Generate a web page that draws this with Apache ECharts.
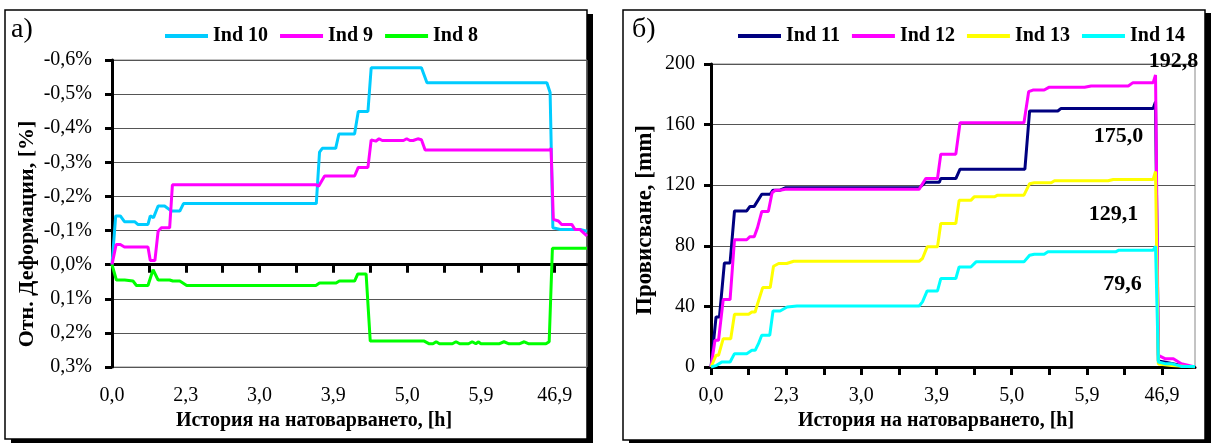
<!DOCTYPE html>
<html>
<head>
<meta charset="utf-8" />
<script src="https://cdn.jsdelivr.net/npm/echarts@6/dist/echarts.min.js"></script>
<style>
  html, body { margin: 0; padding: 0; background: #fff; }
  #chart { width: 1211px; height: 443px; }
</style>
</head>
<body>
<div id="chart"></div>
<script>
// x = loading step index, 8 steps per tick mark, label every 2nd tick
var xLabels = ['0,0', '2,3', '3,0', '3,9', '5,0', '5,9', '46,9'];
var xMax = 103;

// a) relative strain, [%] (negative = upward on the chart)
var ind10 = [[0,0],[0.8,-0.143],[1.8,-0.143],[2.7,-0.126],[4.9,-0.126],[5.6,-0.118],[7.8,-0.118],[8.3,-0.143],[8.7,-0.143],[9.0,-0.138],[10.0,-0.172],[11.4,-0.172],[12.9,-0.157],[14.7,-0.157],[15.5,-0.179],[44.3,-0.179],[45.0,-0.33],[45.6,-0.341],[48.5,-0.341],[49.2,-0.383],[52.6,-0.383],[53.4,-0.449],[55.5,-0.449],[56.2,-0.577],[67.1,-0.577],[68.3,-0.533],[94.3,-0.533],[95.0,-0.505],[95.6,-0.108],[97.2,-0.103],[101.5,-0.103],[103,-0.098]];
var ind9 = [[0,0],[0.9,-0.059],[1.8,-0.059],[2.7,-0.052],[7.8,-0.052],[8.3,-0.012],[9.3,-0.012],[10.0,-0.098],[10.7,-0.108],[12.5,-0.108],[13.1,-0.234],[44.3,-0.234],[44.8,-0.23],[46.1,-0.26],[52.6,-0.26],[53.4,-0.285],[55.5,-0.285],[56.2,-0.366],[57.2,-0.362],[57.9,-0.369],[58.6,-0.364],[63.2,-0.364],[63.9,-0.369],[64.6,-0.364],[65.3,-0.364],[66.3,-0.369],[67.1,-0.366],[67.9,-0.336],[95.0,-0.336],[95.2,-0.342],[95.7,-0.133],[96.8,-0.128],[97.5,-0.118],[99.7,-0.118],[100.4,-0.103],[101.5,-0.103],[103,-0.084]];
var ind8 = [[0,0],[0.95,0.045],[2.75,0.045],[3.1,0.048],[4.55,0.048],[5.3,0.061],[7.8,0.061],[8.9,0.015],[10.0,0.045],[12.5,0.045],[13.2,0.048],[14.7,0.048],[16.2,0.061],[44.2,0.061],[45.0,0.054],[48.6,0.054],[49.3,0.048],[52.6,0.048],[53.3,0.027],[55.1,0.027],[56.0,0.224],[67.7,0.224],[68.8,0.232],[69.6,0.232],[70.3,0.226],[71.0,0.232],[73.8,0.232],[74.6,0.226],[75.4,0.232],[77.3,0.232],[78.1,0.226],[78.9,0.232],[79.4,0.226],[80.0,0.232],[83.9,0.232],[85.0,0.226],[86.1,0.232],[88.3,0.232],[89.4,0.226],[90.4,0.232],[94.1,0.232],[94.8,0.226],[95.5,-0.048],[103,-0.048]];

// б) deflection, [mm]
var ind11 = [[0,0],[1.07,33],[1.8,33],[2.85,68.7],[4.06,68.7],[5.0,103],[7.6,103],[8.3,106],[9.2,106],[10.8,114],[12.6,114],[13.2,116.7],[14.7,116.7],[15.8,118.3],[44.3,118.3],[45.7,122],[48.6,122],[48.9,124.4],[52.1,124.4],[53.0,130.6],[66.8,130.6],[67.8,169],[73.8,169],[74.5,170.7],[94.1,170.7],[94.6,175.0],[95.2,4],[97,3],[100,1],[103,0]];
var ind12 = [[0,0],[0.85,17.6],[1.6,17.6],[2.6,44.5],[4.06,44.5],[5.0,84],[7.6,84],[8.3,86],[9.2,86],[9.9,92],[10.8,102.6],[12.2,102.6],[13.0,115],[13.7,116.7],[14.7,116.7],[15.8,117.3],[44.3,117.3],[45.7,124.4],[48.2,124.4],[48.9,140.5],[52.1,140.5],[53.0,161.2],[66.6,161.2],[67.6,181.7],[68.5,182.8],[70.9,182.8],[71.9,184.6],[79.5,184.6],[80.9,185.5],[88.8,185.5],[89.8,187.7],[94.1,187.7],[94.6,192.8],[95.2,7.7],[96.6,5.5],[98.4,5.5],[100.1,2.2],[103,0]];
var ind13 = [[0,0],[1.07,7.7],[1.6,7.7],[2.6,18.7],[4.2,18.7],[5.0,34.8],[8.0,34.8],[8.7,36.3],[9.4,36.3],[9.7,39.6],[11.0,52.4],[12.6,52.4],[13.3,66.5],[14.4,68.3],[16.1,68.3],[17.6,69.8],[44.3,69.8],[45.0,71.6],[46.0,79.3],[48.2,79.3],[48.9,94.7],[52.1,94.7],[52.8,110],[55.3,110],[56.0,112.3],[60.3,112.3],[61.0,113.4],[66.6,113.4],[67.8,121],[68.8,121.6],[72.4,121.6],[73.1,122.9],[84.5,122.9],[85.6,123.8],[94.1,123.8],[94.6,129.1],[95.2,2],[98,1],[103,0]];
var ind14 = [[0,0],[1.2,1.1],[2.3,3.3],[4.06,3.3],[5.0,8.8],[7.6,8.8],[8.7,11],[9.4,11],[10.1,15.4],[10.8,21],[12.5,21],[13.2,37],[14.7,37],[16.2,39.6],[18.3,40.3],[44.3,40.3],[45.0,43],[46.0,50.2],[48.2,50.2],[48.9,58.4],[52.1,58.4],[52.8,66],[55.3,66],[56.4,69.4],[66.6,69.4],[67.8,73.8],[68.8,74.4],[70.9,74.4],[71.7,76],[86.1,76],[86.8,77.1],[94.1,77.1],[94.6,79.6],[95.2,3.3],[96.6,2.2],[98,2.2],[100.1,0.4],[103,0.4]];

var font = 'Liberation Serif';

var tickVals = [];
for (var v = 0; v <= xMax; v += 8) tickVals.push(v);
var labelVals = xLabels.map(function (s, i) { return i * 16; });
var xFmt = function (v) { return xLabels[v / 16] || ''; };
var comma = function (n) { return n.toFixed(1).replace('.', ','); };

var labelStyle = { fontFamily: font, fontSize: 20, color: '#000' };

function lineSeries(name, data, color, xi, yi) {
  return {
    name: name, type: 'line', data: data, xAxisIndex: xi, yAxisIndex: yi,
    symbol: 'none', lineStyle: { width: 3, color: color }, itemStyle: { color: color }
  };
}

// deflection curve with its peak value written next to it
function peakSeries(name, data, color, offset) {
  var s = lineSeries(name, data, color, 2, 1);
  var k = 0;
  data.forEach(function (p, i) { if (p[1] > data[k][1]) k = i; });
  s.markPoint = {
    symbol: 'circle', symbolSize: 1, silent: true,
    itemStyle: { color: 'rgba(0,0,0,0)' },
    label: {
      show: true, position: 'inside', offset: offset,
      fontFamily: font, fontSize: 22, fontWeight: 'bold', color: '#000',
      formatter: function () { return comma(data[k][1]); }
    },
    data: [{ coord: data[k] }]
  };
  return s;
}

var chart = echarts.init(document.getElementById('chart'));

var option = {
  animation: false,
  backgroundColor: '#fff',
  graphic: [
    { type: 'rect', z: -2, shape: { x: 11, y: 14, width: 582, height: 429 }, style: { fill: '#000' } },
    { type: 'rect', z: -1, shape: { x: 5, y: 10, width: 582, height: 429 }, style: { fill: '#fff', stroke: '#000', lineWidth: 1.5 } },
    { type: 'rect', z: -2, shape: { x: 629, y: 13, width: 582, height: 430 }, style: { fill: '#000' } },
    { type: 'rect', z: -1, shape: { x: 623, y: 10, width: 582, height: 430 }, style: { fill: '#fff', stroke: '#000', lineWidth: 1.5 } },
    { type: 'text', z: 10, x: 11, y: 16, style: { text: 'а)', fontFamily: font, fontSize: 28, fill: '#000' } },
    { type: 'text', z: 10, x: 632, y: 16, style: { text: 'б)', fontFamily: font, fontSize: 28, fill: '#000' } },
    { type: 'text', z: 10, x: 27, y: 234, rotation: Math.PI / 2,
      style: { text: 'Отн. Деформации, [%]', fontFamily: font, fontSize: 22, fontWeight: 'bold', fill: '#000', align: 'center', verticalAlign: 'middle' } },
    { type: 'text', z: 10, x: 645, y: 220, rotation: Math.PI / 2,
      style: { text: 'Провисване, [mm]', fontFamily: font, fontSize: 23, fontWeight: 'bold', fill: '#000', align: 'center', verticalAlign: 'middle' } },
    { type: 'text', z: 10, x: 314, y: 421,
      style: { text: 'История на натоварването, [h]', fontFamily: font, fontSize: 20, fontWeight: 'bold', fill: '#000', align: 'center', verticalAlign: 'middle' } },
    { type: 'text', z: 10, x: 936, y: 421,
      style: { text: 'История на натоварването, [h]', fontFamily: font, fontSize: 20, fontWeight: 'bold', fill: '#000', align: 'center', verticalAlign: 'middle' } }
  ],
  legend: [
    { data: ['Ind 10', 'Ind 9', 'Ind 8'], left: 160, top: 21, icon: 'rect', itemWidth: 43, itemHeight: 4, itemGap: 12,
      textStyle: { fontFamily: font, fontSize: 20, fontWeight: 'bold', color: '#000' } },
    { data: ['Ind 11', 'Ind 12', 'Ind 13', 'Ind 14'], left: 733, top: 21, icon: 'rect', itemWidth: 43, itemHeight: 4, itemGap: 12,
      textStyle: { fontFamily: font, fontSize: 20, fontWeight: 'bold', color: '#000' } }
  ],
  grid: [
    { left: 112, top: 60, width: 475, height: 307, show: true, borderColor: '#888', borderWidth: 1 },
    { left: 711, top: 64, width: 484, height: 303, show: true, borderColor: '#888', borderWidth: 1 }
  ],
  xAxis: [
    { gridIndex: 0, type: 'value', position: 'bottom', min: 0, max: xMax,
      axisLine: { onZero: true, lineStyle: { color: '#000', width: 3 } },
      axisTick: { show: true, length: 8, customValues: tickVals, lineStyle: { color: '#000', width: 3 } },
      axisLabel: { show: false }, splitLine: { show: false } },
    { gridIndex: 0, type: 'value', position: 'bottom', min: 0, max: xMax,
      axisLine: { show: false, onZero: false }, axisTick: { show: false },
      axisLabel: Object.assign({ customValues: labelVals, formatter: xFmt, margin: 19 }, labelStyle),
      splitLine: { show: false } },
    { gridIndex: 1, type: 'value', position: 'bottom', min: 0, max: xMax,
      axisLine: { lineStyle: { color: '#000', width: 3 } },
      axisTick: { show: true, length: 8, customValues: tickVals, lineStyle: { color: '#000', width: 3 } },
      axisLabel: Object.assign({ customValues: labelVals, formatter: xFmt, margin: 19 }, labelStyle),
      splitLine: { show: false } }
  ],
  yAxis: [
    { gridIndex: 0, type: 'value', inverse: true, min: -0.6, max: 0.3, interval: 0.1,
      axisLine: { show: true, onZero: false, lineStyle: { color: '#000', width: 3 } },
      axisTick: { show: true, length: 7, lineStyle: { color: '#000', width: 3 } },
      axisLabel: Object.assign({ margin: 20, formatter: function (v) {
        return (v < -1e-9 ? '-' : '') + Math.abs(v).toFixed(1).replace('.', ',') + '%';
      } }, labelStyle),
      splitLine: { lineStyle: { color: '#555', width: 1 } } },
    { gridIndex: 1, type: 'value', min: 0, max: 200, interval: 40,
      axisLine: { show: true, onZero: false, lineStyle: { color: '#000', width: 3 } },
      axisTick: { show: true, length: 7, lineStyle: { color: '#000', width: 3 } },
      axisLabel: Object.assign({ margin: 16 }, labelStyle),
      splitLine: { lineStyle: { color: '#555', width: 1 } } }
  ],
  series: [
    lineSeries('Ind 10', ind10, '#00CCFF', 0, 0),
    lineSeries('Ind 9', ind9, '#FF00FF', 0, 0),
    lineSeries('Ind 8', ind8, '#00FF00', 0, 0),
    peakSeries('Ind 11', ind11, '#000080', [-37, 34]),
    peakSeries('Ind 12', ind12, '#FF00FF', [18, -14]),
    peakSeries('Ind 13', ind13, '#FFFF00', [-42, 43]),
    peakSeries('Ind 14', ind14, '#00FFFF', [-33, 38])
  ]
};

chart.setOption(option);
</script>
</body>
</html>
